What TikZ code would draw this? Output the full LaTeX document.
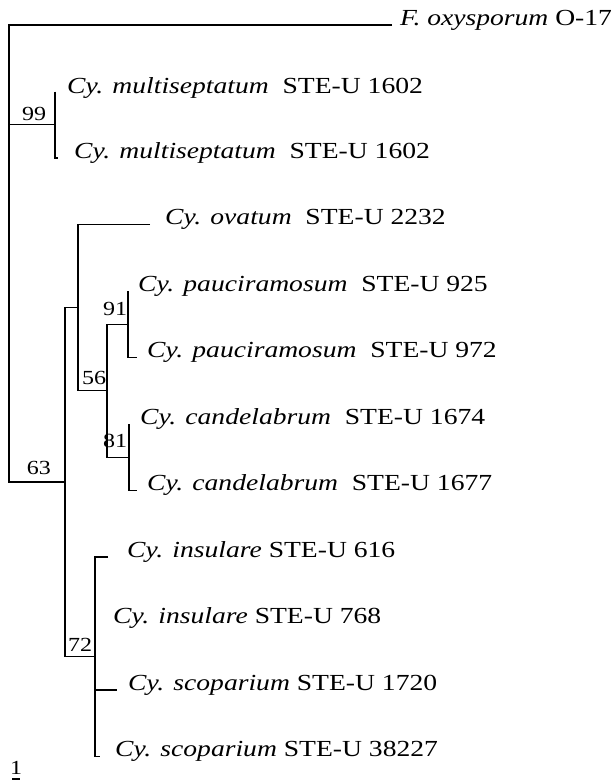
\documentclass[tikz,border=0pt]{standalone}
\usepackage{fontspec}
\setmainfont{Liberation Serif}[FakeStretch=1.2]
\tikzset{
    leaf/.style={anchor=base west, inner sep=0pt, font=\fontsize{23}{27}\selectfont},
    boot/.style={inner sep=0pt, font=\fontsize{20}{24}\selectfont},
    branch/.style={line width=1.1pt}
}
\begin{document}
\begin{tikzpicture}[x=1pt, y=-1pt]
    \useasboundingbox (0,0) rectangle (615,780);

    % ends of the leaf branches
    \coordinate (tF)  at (392,25);
    \coordinate (tm1) at (55,91.5);
    \coordinate (tm2) at (58,158);
    \coordinate (tov) at (150,224.5);
    \coordinate (tp1) at (128,291);
    \coordinate (tp2) at (137,357.5);
    \coordinate (tc1) at (129,424);
    \coordinate (tc2) at (137,490.5);
    \coordinate (ti1) at (108,557);
    \coordinate (ts1) at (117,690);
    \coordinate (ts2) at (100,756.5);

    % inner nodes
    \coordinate (root) at (9,25);
    \coordinate (n99) at (55,124.75);
    \coordinate (n63) at (65,482);
    \coordinate (nov) at (78,307.6);
    \coordinate (n56) at (107,390.6);
    \coordinate (n91) at (128,324.25);
    \coordinate (n81) at (129,457.25);
    \coordinate (n72) at (95,656.75);

    \draw[branch] (tF) -- (root) |- (n63);
    \draw[branch] (root |- n99) -- (n99);
    \draw[branch] (tm1) |- (tm2);
    \draw[branch] (nov) -| (n63) |- (n72);
    \draw[branch] (tov) -| (nov) |- (n56);
    \draw[branch] (n91) -| (n56) |- (n81);
    \draw[branch] (tp1) |- (tp2);
    \draw[branch] (tc1) |- (tc2);
    \draw[branch] (ti1) -| (n72) |- (ts2);
    \draw[branch] (n72 |- ts1) -- (ts1);

    % taxa
    \node[leaf] (lF)  at (400,25)    {\textit{F. oxysporum} O-17};
    \node[leaf] (lm1) at (67,93)     {\textit{Cy. multiseptatum}\ \ STE-U 1602};
    \node[leaf] (lm2) at (74,158)    {\textit{Cy. multiseptatum}\ \ STE-U 1602};
    \node[leaf] (lov) at (165,224.5) {\textit{Cy. ovatum}\ \ STE-U 2232};
    \node[leaf] (lp1) at (138,291)   {\textit{Cy. pauciramosum}\ \ STE-U 925};
    \node[leaf] (lp2) at (147,357.5) {\textit{Cy. pauciramosum}\ \ STE-U 972};
    \node[leaf] (lc1) at (140,424)   {\textit{Cy. candelabrum}\ \ STE-U 1674};
    \node[leaf] (lc2) at (147,490.5) {\textit{Cy. candelabrum}\ \ STE-U 1677};
    \node[leaf] (li1) at (127,557)   {\textit{Cy. insulare} STE-U 616};
    \node[leaf] (li2) at (113,623.5) {\textit{Cy. insulare} STE-U 768};
    \node[leaf] (ls1) at (128,690)   {\textit{Cy. scoparium} STE-U 1720};
    \node[leaf] (ls2) at (115,756.5) {\textit{Cy. scoparium} STE-U 38227};

    % bootstrap values
    \node[boot] (b99) at (34,114) {99};
    \node[boot] (b63) at (39,468) {63};
    \node[boot] (b56) at (94,378) {56};
    \node[boot] (b91) at (115,309) {91};
    \node[boot] (b81) at (115,441) {81};
    \node[boot] (b72) at (80,645) {72};

    % scale
    \node[boot] (scl) at (16,768) {1};
    \draw[branch] (12,779) -- (20,779);
\end{tikzpicture}
\end{document}
